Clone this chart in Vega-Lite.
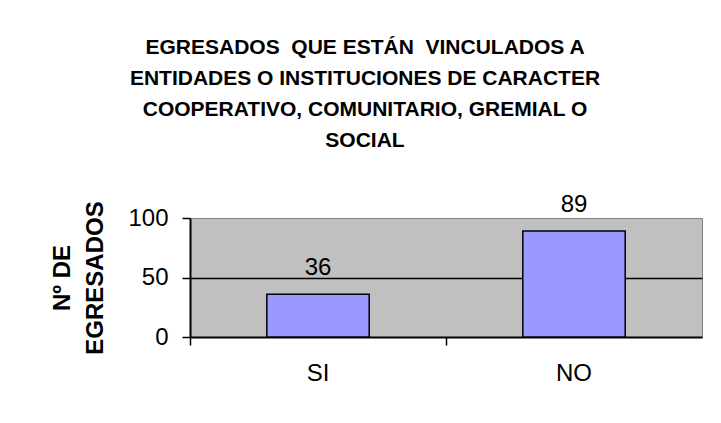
{
  "$schema": "https://vega.github.io/schema/vega-lite/v6.json",
  "width": 512,
  "height": 119,
  "autosize": {"type": "none"},
  "padding": {"left": 190, "top": 218, "right": 19, "bottom": 86},
  "background": "white",
  "data": {"values": [
    {"respuesta": "SI", "egresados": 36},
    {"respuesta": "NO", "egresados": 89}
  ]},
  "title": {
    "text": ["EGRESADOS\u00a0 QUE ESTÁN\u00a0 VINCULADOS A", "ENTIDADES O INSTITUCIONES DE CARACTER", "COOPERATIVO, COMUNITARIO, GREMIAL O", "SOCIAL"],
    "font": "Liberation Sans",
    "fontSize": 21,
    "fontWeight": "bold",
    "color": "black",
    "lineHeight": 31,
    "anchor": "middle",
    "frame": "group",
    "dx": -81,
    "offset": 42
  },
  "config": {
    "view": {"fill": "#C0C0C0", "stroke": "#808080", "strokeWidth": 1},
    "font": "Liberation Sans"
  },
  "encoding": {
    "x": {
      "field": "respuesta",
      "type": "nominal",
      "sort": ["SI", "NO"],
      "scale": {"paddingInner": 0, "paddingOuter": 0},
      "axis": {
        "title": null,
        "labelAngle": 0,
        "labelFont": "Liberation Sans",
        "labelFontSize": 24,
        "labelColor": "black",
        "labelPadding": 16,
        "bandPosition": 0,
        "tickSize": 8,
        "tickColor": "black",
        "tickWidth": 1.5,
        "domainColor": "black",
        "domainWidth": 2,
        "grid": false
      }
    },
    "y": {
      "field": "egresados",
      "type": "quantitative",
      "scale": {"domain": [0, 100]},
      "axis": {
        "values": [0, 50, 100],
        "title": ["Nº DE", "EGRESADOS"],
        "titleFont": "Liberation Sans",
        "titleFontSize": 24,
        "titleFontWeight": "bold",
        "titleColor": "black",
        "titleLineHeight": 33,
        "titlePadding": 20,
        "labelFont": "Liberation Sans",
        "labelFontSize": 24,
        "labelColor": "black",
        "labelPadding": 14,
        "tickSize": 8,
        "tickColor": "black",
        "tickWidth": 1.5,
        "domainColor": "black",
        "domainWidth": 2,
        "grid": true,
        "gridColor": "black",
        "gridWidth": 1.5,
        "gridOpacity": {"expr": "datum.value == 50 ? 1 : 0"}
      }
    }
  },
  "layer": [
    {
      "mark": {"type": "bar", "fill": "#9999FF", "stroke": "black", "strokeWidth": 1.5, "width": {"band": 0.4}}
    },
    {
      "mark": {"type": "text", "baseline": "alphabetic", "dy": -19, "font": "Liberation Sans", "fontSize": 24, "color": "black"},
      "encoding": {"text": {"field": "egresados", "type": "quantitative"}}
    }
  ]
}
